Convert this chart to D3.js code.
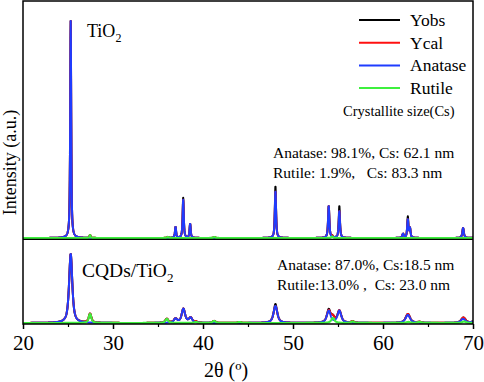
<!DOCTYPE html>
<html>
<head>
<meta charset="utf-8">
<script src="https://cdn.jsdelivr.net/npm/d3@7"></script>
<style>
  body { margin: 0; background: #fff; }
  svg text { font-family: "Liberation Serif", Tinos, "Times New Roman", Times, "DejaVu Serif", serif; fill: #000; }
</style>
</head>
<body>
<div id="chart"></div>
<script>
// peak lists: [2theta, height (a.u.), fwhm]
var tio2Anatase = [
  [25.30, 217, 0.13], [36.95, 11, 0.15], [37.80, 38, 0.15], [38.57, 14, 0.15],
  [48.05, 47, 0.16], [53.97, 32, 0.17], [55.15, 27, 0.17], [62.23, 4, 0.2],
  [62.76, 18, 0.17], [63.00, 9, 0.15], [68.90, 10, 0.2], [70.30, 4, 0.2]
];
var tio2Rutile = [
  [27.45, 3, 0.15], [36.10, 1, 0.2], [41.25, 1, 0.2], [54.35, 1.5, 0.2]
];
var tio2ObsExtra = [
  [37.80, 2, 0.1], [48.05, 5, 0.1], [55.15, 5, 0.1], [62.76, 3, 0.1]
];

var cqdAnatase = [
  [25.30, 69, 0.42], [36.95, 4, 0.45], [37.82, 14, 0.45], [38.62, 5, 0.45],
  [48.05, 17, 0.5], [53.97, 12, 0.5], [55.15, 12, 0.5], [62.76, 8, 0.6],
  [68.90, 4, 0.6], [70.30, 3, 0.6]
];
var cqdRutile = [
  [27.45, 9, 0.35], [35.98, 4, 0.4], [39.20, 1, 0.4], [41.23, 2, 0.4],
  [44.05, 1, 0.4], [54.43, 5, 0.45], [56.62, 1.5, 0.4], [62.80, 1, 0.5],
  [64.05, 1, 0.5], [69.00, 1.5, 0.5]
];
var cqdObsExtra = [
  [48.05, 2, 0.2], [53.97, 1, 0.2]
];

var xTicks = [20, 30, 40, 50, 60, 70];
var xMinor = [25, 35, 45, 55, 65];
var topOffset = 85;

var legendNames = ["Yobs", "Ycal", "Anatase", "Rutile"];
var colors = { Yobs: "#000000", Ycal: "#ff1010", Anatase: "#1f3cff", Rutile: "#3ef03e" };

var serif = "'Liberation Serif', Tinos, 'Times New Roman', Times, 'DejaVu Serif', serif";

var W = 484, H = 382;
var margin = {top: 1, right: 11, bottom: 58, left: 23};

var svg = d3.select("#chart").append("svg")
  .attr("width", W).attr("height", H)
  .attr("font-family", serif);

var x = d3.scaleLinear().domain([20, 70]).range([margin.left, W - margin.right]);
var y = d3.scaleLinear().domain([-1, 322]).range([H - margin.bottom, margin.top]);

// pseudo-voigt peak
function profile(peaks, t) {
  var s = 0;
  peaks.forEach(function(p) {
    var u = (t - p[0]) / p[2];
    var L = 1 / (1 + 4 * u * u);
    var G = Math.exp(-4 * Math.LN2 * u * u);
    s += p[1] * (0.75 * L + 0.25 * G);
  });
  return s;
}

var xs = d3.range(19.9, 70.5, 0.02);

function series(lists, off) {
  return xs.map(function(t) {
    var v = 0;
    lists.forEach(function(l) { v += profile(l, t); });
    return [t, v + off];
  });
}

var panels = [
  {a: tio2Anatase, r: tio2Rutile, e: tio2ObsExtra, off: topOffset},
  {a: cqdAnatase, r: cqdRutile, e: cqdObsExtra, off: 0}
];

svg.append("clipPath").attr("id", "clip")
  .append("rect")
  .attr("x", x(20)).attr("y", y(322))
  .attr("width", x(70) - x(20)).attr("height", y(-1) - y(322));

var line = d3.line()
  .x(function(d) { return x(d[0]); })
  .y(function(d) { return y(d[1]); });

var g = svg.append("g").attr("clip-path", "url(#clip)");

panels.forEach(function(p) {
  var data = {
    Yobs: series([p.a, p.r, p.e], p.off),
    Ycal: series([p.a, p.r], p.off),
    Anatase: series([p.a], p.off),
    Rutile: series([p.r], p.off)
  };
  legendNames.forEach(function(n) {
    g.append("path")
      .attr("d", line(data[n]))
      .attr("fill", "none")
      .attr("stroke", colors[n])
      .attr("stroke-width", n === "Rutile" ? 2.2 : 2)
      .attr("stroke-linejoin", "round");
  });
});

// divider between panels
svg.append("line")
  .attr("x1", x(20)).attr("x2", x(70))
  .attr("y1", y(topOffset) + 1.3).attr("y2", y(topOffset) + 1.3)
  .attr("stroke", "#000").attr("stroke-width", 1.3);

// frame
svg.append("rect")
  .attr("x", x(20)).attr("y", y(322))
  .attr("width", x(70) - x(20)).attr("height", y(-1) - y(322))
  .attr("fill", "none").attr("stroke", "#000").attr("stroke-width", 1.5);

// x axis
var xAxis = svg.append("g")
  .attr("transform", "translate(0," + y(-1) + ")")
  .call(d3.axisBottom(x).tickValues(xTicks).tickSize(5).tickPadding(6)
    .tickFormat(d3.format("d")));
xAxis.attr("font-family", serif).attr("font-size", 21);
xAxis.select(".domain").remove();
xAxis.selectAll(".tick line").attr("stroke-width", 1.5);

svg.append("g")
  .attr("transform", "translate(0," + y(-1) + ")")
  .call(d3.axisBottom(x).tickValues(xMinor).tickSize(3).tickFormat(""))
  .call(function(a) { a.select(".domain").remove(); })
  .selectAll(".tick line").attr("stroke-width", 1.2);

svg.append("text")
  .attr("x", 226).attr("y", 377)
  .attr("text-anchor", "middle")
  .style("font-size", "20px")
  .text("2θ (º)");

svg.append("text")
  .attr("transform", "translate(16," + ((y(-1) + y(322)) / 2) + ") rotate(-90)")
  .attr("text-anchor", "middle")
  .style("font-size", "18px")
  .text("Intensity (a.u.)");

// sample labels
var t1 = svg.append("text").attr("x", 87).attr("y", 37).style("font-size", "18px");
t1.append("tspan").text("TiO");
t1.append("tspan").attr("dy", 5).style("font-size", "12px").text("2");

var t2 = svg.append("text").attr("x", 82).attr("y", 277).style("font-size", "19.5px");
t2.append("tspan").text("CQDs/TiO");
t2.append("tspan").attr("dy", 5).style("font-size", "13px").text("2");

// legend
var leg = svg.append("g");
legendNames.forEach(function(n, i) {
  var ly = 20 + i * 22.7;
  leg.append("line")
    .attr("x1", 359).attr("x2", 400).attr("y1", ly).attr("y2", ly)
    .attr("stroke", colors[n]).attr("stroke-width", 2);
  leg.append("text")
    .attr("x", 410).attr("y", ly + 6)
    .style("font-size", "17.5px")
    .text(n);
});
leg.append("text")
  .attr("x", 343).attr("y", 116)
  .style("font-size", "14.5px")
  .text("Crystallite size(Cs)");

// phase annotations
var notes = [
  {x: 273, y: 158, s: "Anatase: 98.1%, Cs: 62.1 nm"},
  {x: 273, y: 178, s: "Rutile: 1.9%,   Cs: 83.3 nm"},
  {x: 277, y: 270, s: "Anatase: 87.0%, Cs:18.5 nm"},
  {x: 277, y: 290, s: "Rutile:13.0% ,  Cs: 23.0 nm"}
];
svg.selectAll(".note").data(notes).enter().append("text")
  .attr("class", "note")
  .attr("x", function(d) { return d.x; })
  .attr("y", function(d) { return d.y; })
  .attr("xml:space", "preserve")
  .style("white-space", "pre")
  .style("font-size", "15.5px")
  .text(function(d) { return d.s; });
</script>
</body>
</html>
